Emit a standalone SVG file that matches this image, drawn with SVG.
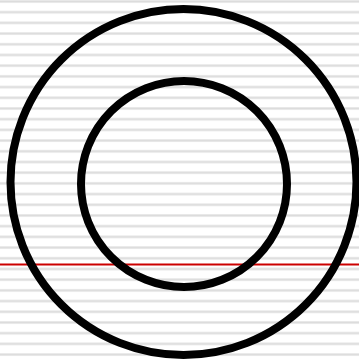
<svg xmlns="http://www.w3.org/2000/svg" width="359" height="360" viewBox="0 0 359 360">
<defs>
<pattern id="ruled" x="0" y="0" width="359" height="10.7" patternUnits="userSpaceOnUse">
<rect x="0" y="0" width="359" height="3" fill="#ebebeb"/>
<rect x="0" y="0.8" width="359" height="1.4" fill="#dcdcdc"/>
</pattern>
<style>
.ring{fill:none;stroke:#000;stroke-width:8}
</style>
</defs>
<rect width="359" height="360" fill="#fff"/>
<rect width="359" height="360" fill="url(#ruled)"/>
<line x1="0" y1="264.5" x2="359" y2="264.5" stroke="#cc0000" stroke-width="2"/>
<g id="outer"><circle class="ring" cx="183.5" cy="182" r="173"/></g>
<g id="inner"><circle class="ring" cx="184" cy="184" r="103"/></g>
</svg>
